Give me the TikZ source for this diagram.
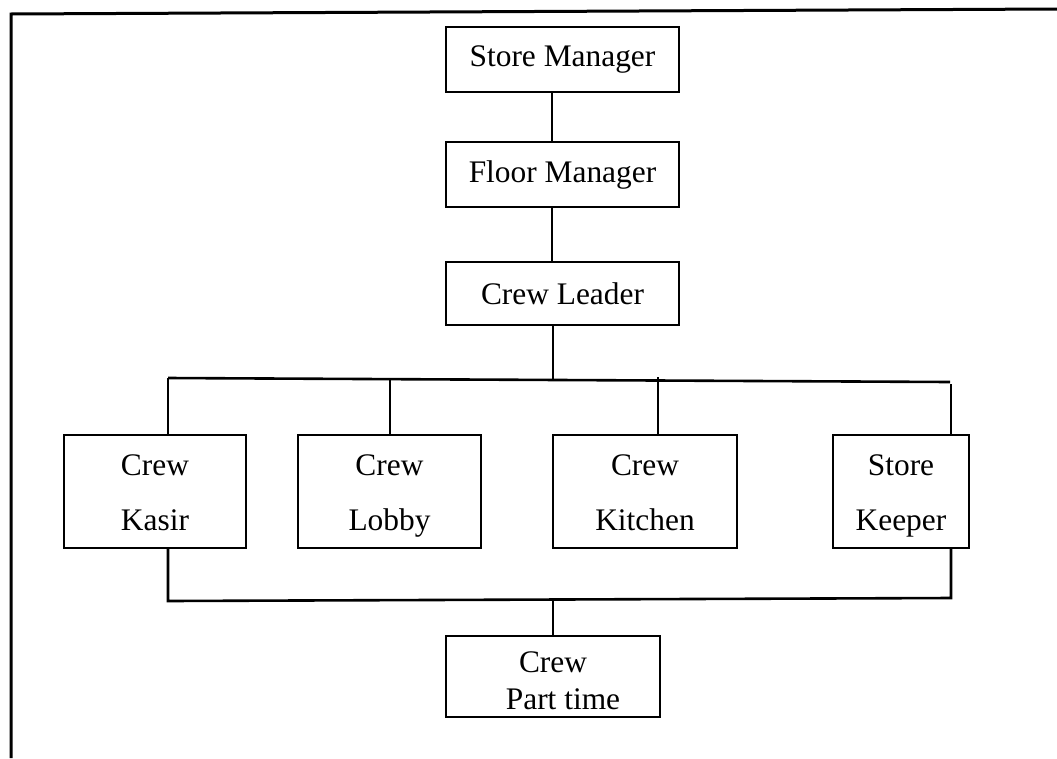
\documentclass[tikz,border=0pt]{standalone}
\usepackage{fontspec}
\setmainfont{Liberation Serif}
\begin{document}
\begin{tikzpicture}[x=1pt,y=-1pt,
  box/.style={draw, line width=1.8pt, inner sep=0pt, align=center,
    font=\fontsize{31.4}{55}\selectfont},
  link/.style={line width=2.6pt},
  frame/.style={line width=3pt}]
\useasboundingbox (0,0) rectangle (1057,758);

% page frame (left and top edges)
\coordinate (fB) at (11,758);
\coordinate (fTL) at (11,14);
\coordinate (fTR) at (1057,9);
\draw[frame] (fB) -- (fTL) -- (fTR);

% management chain
\node[box, minimum width=233pt, minimum height=65pt] (sm) at (562.5,59.5) {Store Manager};
\node[box, minimum width=233pt, minimum height=65pt] (fm) at (562.5,174.5) {Floor Manager};
\node[box, minimum width=233pt, minimum height=63pt] (cl) at (562.5,293.5) {Crew Leader};

% crew positions
\node[box, minimum width=182pt, minimum height=113pt] (kasir) at (155,491.5) {\strut Crew\\\strut Kasir};
\node[box, minimum width=183pt, minimum height=113pt] (lobby) at (389.5,491.5) {\strut Crew\\\strut Lobby};
\node[box, minimum width=184pt, minimum height=113pt] (kitchen) at (645,491.5) {\strut Crew\\\strut Kitchen};
\node[box, minimum width=136pt, minimum height=113pt] (keeper) at (901,491.5) {\strut Store\\\strut Keeper};

% part-time crew
\node[box, minimum width=214pt, minimum height=81pt,
  font=\fontsize{31.4}{37}\selectfont] (pt) at (553,676.5)
  {\rule{0pt}{29pt}Crew\\\hspace*{20pt}Part time};

% vertical spine of the chain
\coordinate (spine) at (552,0);
\draw[link] (sm.south -| spine) -- (fm.north -| spine);
\draw[link] (fm.south -| spine) -- (cl.north -| spine);

% upper distribution bus
\coordinate (ubL) at (168,378);
\coordinate (ubR) at (950,382);
\coordinate (uLeader) at (553,380);
\coordinate (uLobby) at (390,379.5);
\coordinate (uKitchen) at (658,377);
\coordinate (uKeeper) at (951,384);
\draw[link] (ubL) -- (ubR);
\draw[link] (cl.south -| uLeader) -- (uLeader);
\draw[link] (ubL) -- (kasir.north -| ubL);
\draw[link] (uLobby) -- (lobby.north -| uLobby);
\draw[link] (uKitchen) -- (kitchen.north -| uKitchen);
\draw[link] (uKeeper) -- (keeper.north -| uKeeper);

% lower bus to part-time crew
\coordinate (lbL) at (168,601);
\coordinate (lbR) at (951,598);
\coordinate (lbMid) at (553,599.5);
\draw[link] (kasir.south -| lbL) -- (lbL) -- (lbR) -- (keeper.south -| lbR);
\draw[line width=1.8pt] (lbMid) -- (pt.north -| lbMid);
\end{tikzpicture}
\end{document}
